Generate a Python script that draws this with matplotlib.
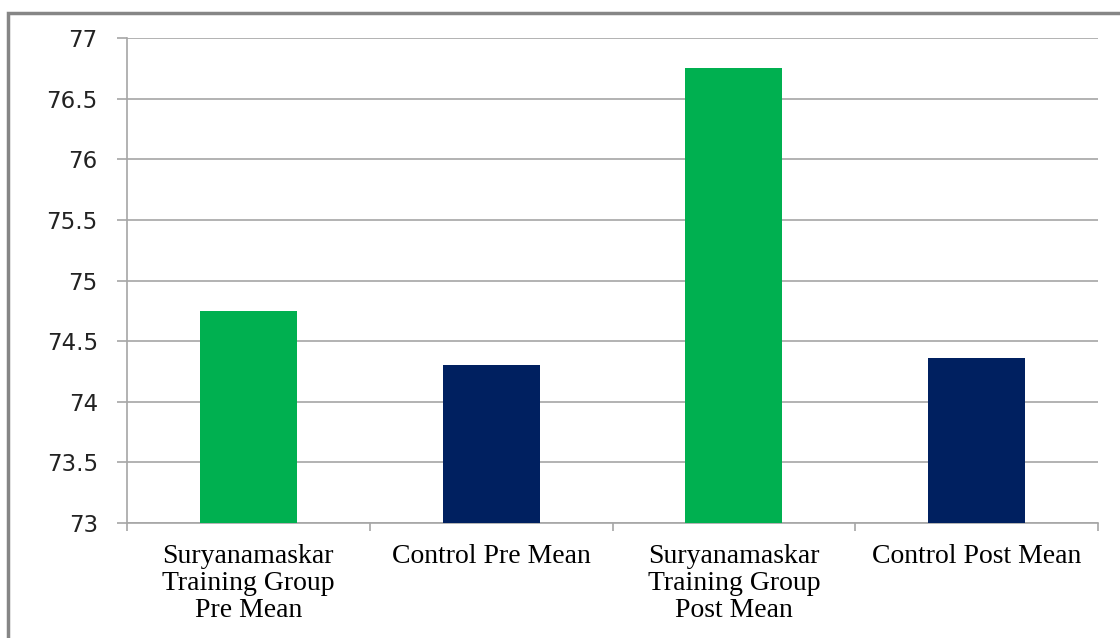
import matplotlib.pyplot as plt
import numpy as np

# data
categories = ['Suryanamaskar\nTraining Group\nPre Mean', 'Control Pre Mean',
              'Suryanamaskar\nTraining Group\nPost Mean', 'Control Post Mean']
means = [74.75, 74.30, 76.75, 74.36]
colors = ['#00B050', '#002060', '#00B050', '#002060']
yticks = [73, 73.5, 74, 74.5, 75, 75.5, 76, 76.5, 77]

fig = plt.figure(figsize=(11.2, 6.38), dpi=100)
ax = fig.add_axes([127 / 1120, 1 - 523 / 638, (1098 - 127) / 1120, (523 - 38) / 638])

# outer chart border (cut off at right and bottom as in the picture)
border = plt.Rectangle((8 / 1120, -0.05), 1.1, 1 - 13 / 638 + 0.05, transform=fig.transFigure,
                       fill=False, edgecolor='#868686', linewidth=2.5, clip_on=False)
fig.add_artist(border)

x = np.arange(len(categories))
ax.bar(x, [m - 73 for m in means], bottom=73, width=0.4, color=colors, zorder=3)

ax.set_xlim(-0.5, 3.5)
ax.set_ylim(73, 77)
ax.set_yticks(yticks)
ax.set_yticklabels(['{:g}'.format(t) for t in yticks], fontsize=16.5, color='#222222')
ax.yaxis.grid(True, color='#a6a6a6', linewidth=1.2, zorder=0)

ax.set_xticks(x)
ax.set_xticklabels(categories, fontsize=20, family='Liberation Serif', linespacing=1.12)
ax.set_xticks(np.arange(-0.5, 4, 1), minor=True)
ax.tick_params(axis='x', which='major', length=0, pad=15)
ax.tick_params(axis='x', which='minor', length=6, color='#a6a6a6', width=1.2)
ax.tick_params(axis='y', length=7, color='#a6a6a6', width=1.2, pad=14)

for s in ['top', 'right']:
    ax.spines[s].set_visible(False)
for s in ['left', 'bottom']:
    ax.spines[s].set_color('#a6a6a6')
    ax.spines[s].set_linewidth(1.2)

fig.savefig('out.png', dpi=100)
